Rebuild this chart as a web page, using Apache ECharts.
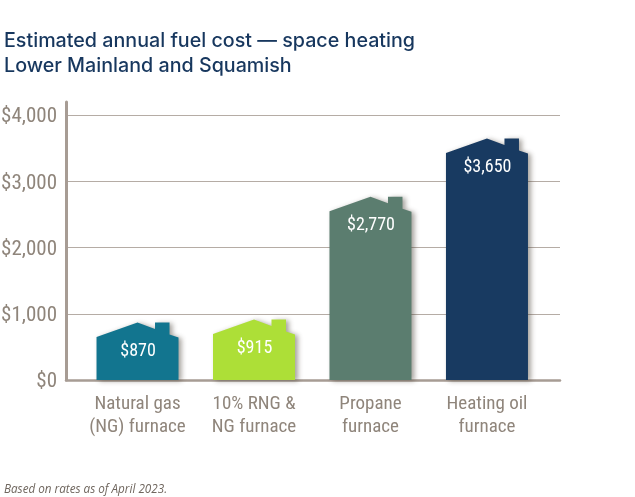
<!DOCTYPE html>
<html>
<head>
<meta charset="utf-8">
<title>Estimated annual fuel cost</title>
<script src="https://cdn.jsdelivr.net/npm/echarts@6/dist/echarts.min.js"></script>
<style>
html,body{margin:0;padding:0;background:#fff;}
#chart{width:635px;height:497px;}
</style>
</head>
<body>
<div id="chart"></div>
<script>
var categories = ['Natural gas\n(NG) furnace', '10% RNG &\nNG furnace', 'Propane\nfurnace', 'Heating oil\nfurnace'];
var costs = [870, 915, 2770, 3650];
var categoryIndex = [0, 1, 2, 3];

var houseColors = ['#12758f', '#addf37', '#5b7d6f', '#183a61'];
var narrowFont = '"Roboto Condensed", sans-serif';
var titleFont = 'Inter, "Noto Sans", sans-serif';

function money(v){
	return '$' + String(v).replace(/\B(?=(\d{3})+$)/g, ',');
}

// house shape: the peak of the roof sits on the value
function renderHouse(params, api){
	var i = api.value(0);
	var v = api.value(1);
	var top = api.coord([i, v]);
	var base = api.coord([i, 0]);
	var x = top[0], y = top[1];
	var pts = [
		[x - 41, base[1]],
		[x - 41, y + 14.5],
		[x, y],
		[x + 17.5, y + 6.5],
		[x + 17.5, y],
		[x + 32, y],
		[x + 32, y + 12],
		[x + 41, y + 15],
		[x + 41, base[1]]
	];
	return {
		type: 'group',
		children: [{
			type: 'polygon',
			shape: {points: pts},
			style: {
				fill: houseColors[i],
				shadowColor: 'rgba(60,50,40,0.45)',
				shadowBlur: 5,
				shadowOffsetX: 3,
				shadowOffsetY: 1
			}
		}, {
			type: 'text',
			z2: 10,
			style: {
				x: x + 0.5,
				y: y + 29,
				text: money(v),
				fill: '#fff',
				font: '18px ' + narrowFont,
				textAlign: 'center',
				textVerticalAlign: 'middle'
			}
		}]
	};
}

var myChart = echarts.init(document.getElementById('chart'));
var option = {
	animation: false,
	backgroundColor: '#fff',
	title: [{
		text: 'Estimated annual fuel cost \u2014 space heating\nLower Mainland and Squamish',
		left: 4,
		top: 29,
		padding: 0,
		textStyle: {color: '#17375e', fontFamily: titleFont, fontSize: 19.7, fontWeight: 500, lineHeight: 25}
	}, {
		text: 'Based on rates as of April 2023.',
		left: 4,
		top: 484,
		padding: 0,
		textStyle: {color: '#6f665e', fontFamily: '"Open Sans", sans-serif', fontSize: 11.7, fontStyle: 'italic', fontWeight: 400}
	}],
	grid: {left: 66, right: 75, top: 102, bottom: 117, outerBoundsMode: 'none'},
	xAxis: {
		type: 'value',
		min: -0.614,
		max: 3.627,
		splitLine: {show: false},
		axisTick: {show: false},
		axisLine: {show: true, onZero: false, lineStyle: {color: '#a79c94', width: 2.5}},
		axisLabel: {
			customValues: categoryIndex,
			formatter: function(v){ return categories[v]; },
			color: '#8f857b',
			fontFamily: narrowFont,
			fontSize: 19,
			lineHeight: 23,
			margin: 13
		}
	},
	yAxis: {
		type: 'value',
		min: 0,
		max: 4200,
		interval: 1000,
		axisTick: {show: false},
		axisLine: {show: true, onZero: false, lineStyle: {color: '#a79c94', width: 3}},
		splitLine: {show: true, showMaxLine: false, lineStyle: {color: '#b5aca5', width: 1}},
		axisLabel: {
			showMaxLabel: false,
			formatter: function(v){ return money(v); },
			color: '#8f857b',
			fontFamily: narrowFont,
			fontSize: 21,
			verticalAlign: 'top',
			lineHeight: 4,
			margin: 9
		}
	},
	series: [{
		type: 'custom',
		renderItem: renderHouse,
		clip: false,
		encode: {x: 0, y: 1},
		data: costs.map(function(c, i){ return [categoryIndex[i], c]; })
	}]
};
myChart.setOption(option);
</script>
</body>
</html>
